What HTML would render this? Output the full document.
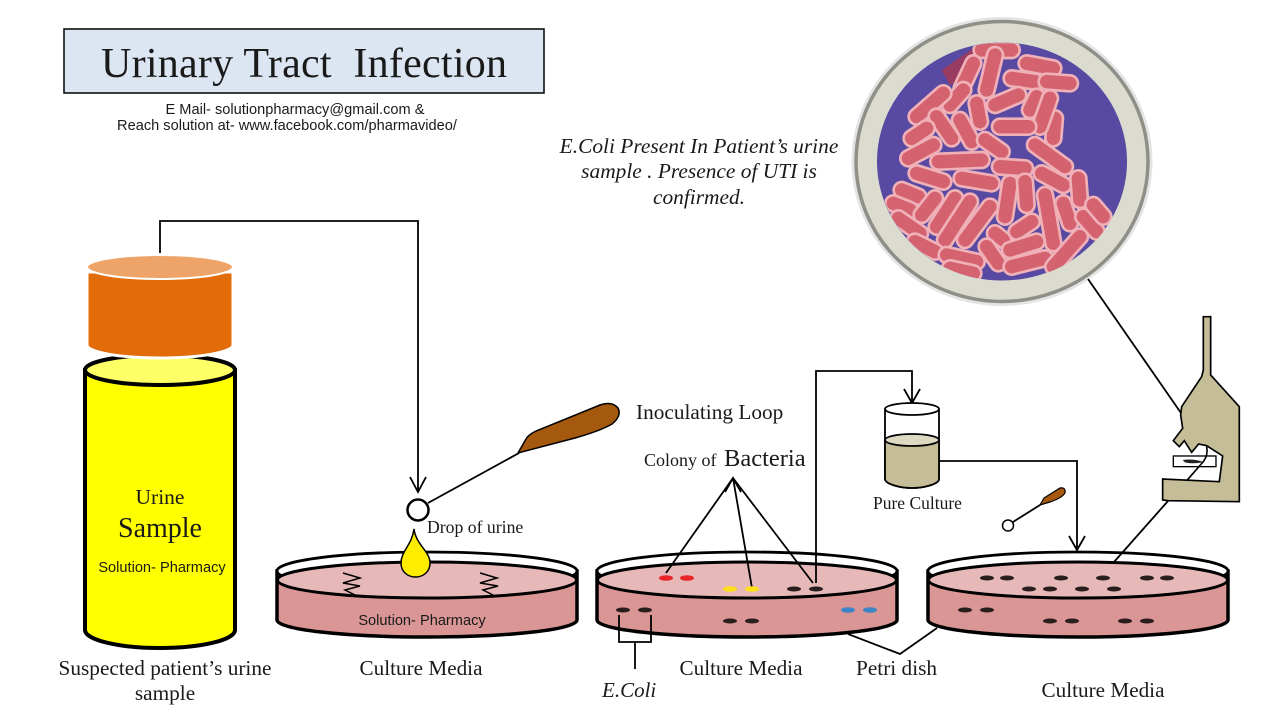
<!DOCTYPE html>
<html><head><meta charset="utf-8"><style>
html,body{margin:0;padding:0;background:#fff}
svg{display:block}
.s{font-family:"Liberation Serif",serif;fill:#1a1a1a}
.a{font-family:"Liberation Sans",sans-serif;fill:#1a1a1a}
.l{fill:none;stroke:#000;stroke-width:1.8}
.o{fill:#2a1d1d}
.p{fill:none;stroke:#f0b0b8;stroke-linecap:round;stroke-width:56}
.q{fill:none;stroke:#d4636f;stroke-linecap:round;stroke-width:40}
</style></head><body>
<svg width="1280" height="720" viewBox="0 0 1280 720" xmlns="http://www.w3.org/2000/svg">
<defs>
<clipPath id="c"><ellipse cx="487" cy="455" rx="375" ry="357"/></clipPath>
<g id="dish">
<path d="M277 571V620A150 17 0 0 0 577 620V571Z" fill="#d99694" stroke="#000" stroke-width="3.500"/>
<ellipse cx="427" cy="571" rx="150" ry="19" fill="#fff" stroke="#000" stroke-width="2.800"/>
<ellipse cx="427" cy="580" rx="149.500" ry="18" fill="#e6b9b8" stroke="#000" stroke-width="3"/>
</g>
</defs>
<rect width="1280" height="720" fill="#fff"/>

<!-- title -->
<rect x="64" y="29" width="480" height="64" fill="#dce6f2" stroke="#000" stroke-width="1.500"/>
<text class="s" x="101" y="77" font-size="42" textLength="406" xml:space="preserve">Urinary Tract  Infection</text>
<text class="a" x="295" y="114" font-size="14.600" text-anchor="middle">E Mail- solutionpharmacy@gmail.com &amp;</text>
<text class="a" x="287" y="130" font-size="14.600" text-anchor="middle">Reach solution at- www.facebook.com/pharmavideo/</text>

<!-- description -->
<g font-size="21.400" font-style="italic" text-anchor="middle">
<text class="s" x="699" y="153">E.Coli Present In Patient’s urine</text>
<text class="s" x="699" y="178">sample . Presence of UTI is</text>
<text class="s" x="699" y="204">confirmed.</text>
</g>

<!-- magnified circle -->
<ellipse cx="1002" cy="161.500" rx="149" ry="143" fill="#fff" stroke="#e4e4e4" stroke-width="3"/>
<ellipse cx="1002" cy="161.500" rx="146" ry="140" fill="#dcdbd0" stroke="#8f8f88" stroke-width="3.500"/>
<ellipse cx="1002" cy="161.500" rx="125" ry="119" fill="#5849a2"/>
<g transform="translate(840 10) scale(.3333)" clip-path="url(#c)">
<path d="M305 180L400 115L390 200L330 225Z" fill="#9a3c62"/>
<path class="p" d="M425 120H515"/><path class="q" d="M425 120H515"/>
<path class="p" d="M400 160L365 235"/><path class="q" d="M400 160L365 235"/>
<path class="p" d="M465 135L440 240"/><path class="q" d="M465 135L440 240"/>
<path class="p" d="M560 160L640 175"/><path class="q" d="M560 160L640 175"/>
<path class="p" d="M515 205L585 215"/><path class="q" d="M515 205L585 215"/>
<path class="p" d="M620 215L690 220"/><path class="q" d="M620 215L690 220"/>
<path class="p" d="M465 285L535 255"/><path class="q" d="M465 285L535 255"/>
<path class="p" d="M570 300L590 260"/><path class="q" d="M570 300L590 260"/>
<path class="p" d="M645 325L640 385"/><path class="q" d="M645 325L640 385"/>
<path class="p" d="M600 350L630 265"/><path class="q" d="M600 350L630 265"/>
<path class="p" d="M480 350H565"/><path class="q" d="M480 350H565"/>
<path class="p" d="M330 285L370 240"/><path class="q" d="M330 285L370 240"/>
<path class="p" d="M230 320L310 250"/><path class="q" d="M230 320L310 250"/>
<path class="p" d="M410 280L420 335"/><path class="q" d="M410 280L420 335"/>
<path class="p" d="M290 320L335 385"/><path class="q" d="M290 320L335 385"/>
<path class="p" d="M360 330L395 395"/><path class="q" d="M360 330L395 395"/>
<path class="p" d="M215 385L260 355"/><path class="q" d="M215 385L260 355"/>
<path class="p" d="M205 445L280 405"/><path class="q" d="M205 445L280 405"/>
<path class="p" d="M435 390L485 425"/><path class="q" d="M435 390L485 425"/>
<path class="p" d="M295 455L425 450"/><path class="q" d="M295 455L425 450"/>
<path class="p" d="M230 490L310 515"/><path class="q" d="M230 490L310 515"/>
<path class="p" d="M365 505L455 520"/><path class="q" d="M365 505L455 520"/>
<path class="p" d="M480 470L555 475"/><path class="q" d="M480 470L555 475"/>
<path class="p" d="M585 405L675 470"/><path class="q" d="M585 405L675 470"/>
<path class="p" d="M605 490L670 525"/><path class="q" d="M605 490L670 525"/>
<path class="p" d="M715 505L720 570"/><path class="q" d="M715 505L720 570"/>
<path class="p" d="M510 520L495 620"/><path class="q" d="M510 520L495 620"/>
<path class="p" d="M555 515L560 585"/><path class="q" d="M555 515L560 585"/>
<path class="p" d="M615 555L640 700"/><path class="q" d="M615 555L640 700"/>
<path class="p" d="M670 580L690 640"/><path class="q" d="M670 580L690 640"/>
<path class="p" d="M185 540L235 560"/><path class="q" d="M185 540L235 560"/>
<path class="p" d="M160 580L210 600"/><path class="q" d="M160 580L210 600"/>
<path class="p" d="M245 615L285 565"/><path class="q" d="M245 615L285 565"/>
<path class="p" d="M290 650L345 565"/><path class="q" d="M290 650L345 565"/>
<path class="p" d="M315 690L390 575"/><path class="q" d="M315 690L390 575"/>
<path class="p" d="M375 690L450 590"/><path class="q" d="M375 690L450 590"/>
<path class="p" d="M175 625L240 670"/><path class="q" d="M175 625L240 670"/>
<path class="p" d="M225 695L285 725"/><path class="q" d="M225 695L285 725"/>
<path class="p" d="M320 735L410 755"/><path class="q" d="M320 735L410 755"/>
<path class="p" d="M330 775L400 790"/><path class="q" d="M330 775L400 790"/>
<path class="p" d="M465 670L490 690"/><path class="q" d="M465 670L490 690"/>
<path class="p" d="M530 665L575 635"/><path class="q" d="M530 665L575 635"/>
<path class="p" d="M440 710L475 760"/><path class="q" d="M440 710L475 760"/>
<path class="p" d="M510 720L590 695"/><path class="q" d="M510 720L590 695"/>
<path class="p" d="M515 770L615 745"/><path class="q" d="M515 770L615 745"/>
<path class="p" d="M640 770L720 680"/><path class="q" d="M640 770L720 680"/>
<path class="p" d="M730 620L770 665"/><path class="q" d="M730 620L770 665"/>
<path class="p" d="M760 585L790 620"/><path class="q" d="M760 585L790 620"/>
</g>

<!-- bottle -->
<path d="M85 370V630A75 18 0 0 0 235 630V370Z" fill="#ff0" stroke="#000" stroke-width="4"/>
<ellipse cx="160" cy="370" rx="75" ry="15" fill="#ffff66" stroke="#000" stroke-width="4"/>
<path d="M87 272V345A73 13 0 0 0 233 345V272Z" fill="#e36c0a" stroke="#fff" stroke-width="3"/>
<ellipse cx="160" cy="267" rx="73" ry="12" fill="#eea468" stroke="#fff" stroke-width="2"/>
<path class="l" d="M160 253V221H418V492"/>
<path class="l" d="M410 477L418 492L426 477"/>
<text class="s" x="160" y="504" font-size="21.500" text-anchor="middle">Urine</text>
<text class="s" x="160" y="537" font-size="28" text-anchor="middle">Sample</text>
<text class="a" x="162" y="572" font-size="14.600" text-anchor="middle">Solution- Pharmacy</text>
<text class="s" x="165" y="675" font-size="21.300" text-anchor="middle">Suspected patient’s urine</text>
<text class="s" x="165" y="700" font-size="21.300" text-anchor="middle">sample</text>

<!-- dish 1 -->
<use href="#dish"/>
<path d="M343 573L360 578L343 583L360 586L345 590L355 595M480 573L497 578L480 583L498 586L483 590L493 595" fill="none" stroke="#000" stroke-width="1.500"/>
<text class="a" x="422" y="625" font-size="14.600" text-anchor="middle">Solution- Pharmacy</text>
<circle cx="418" cy="510" r="10.500" fill="#fff" stroke="#000" stroke-width="2.500"/>
<path class="l" d="M428 503L519 453"/>
<path d="M518 453L526 439Q528 435 536 431L600 405Q612 401 618 408Q622 416 612 424Q600 431 575 438Z" fill="#a5590f" stroke="#000" stroke-width="1.500"/>
<path d="M414 529C416 545 430 551 430 563C430 572 423 577 415.500 577S401 572 401 563C401 551 412 545 414 529Z" fill="#ffed00" stroke="#000" stroke-width="1.500"/>
<text class="s" x="427" y="533" font-size="17.700">Drop of urine</text>
<text class="s" x="421" y="675" font-size="21.200" text-anchor="middle">Culture Media</text>
<text class="s" x="636" y="419" font-size="21.300">Inoculating Loop</text>
<text class="s" x="644" y="466" font-size="18">Colony of</text>
<text class="s" x="724" y="466" font-size="24.500">Bacteria</text>

<!-- dish 2 -->
<use href="#dish" x="320"/>
<path class="l" d="M733 478L666 573M733 478L752 588M733 478L813 583"/>
<path class="l" d="M725 492L733 478L741 492"/>
<path class="l" d="M816 583V371H912V403"/>
<path class="l" d="M904 389L912 403L920 389"/>
<g>
<ellipse cx="666" cy="578" rx="7" ry="2.800" fill="#e8262a"/><ellipse cx="687" cy="578" rx="7" ry="2.800" fill="#e8262a"/>
<ellipse cx="730" cy="589" rx="7" ry="2.800" fill="#ffdf1a"/><ellipse cx="752" cy="589" rx="7" ry="2.800" fill="#ffdf1a"/>
<ellipse class="o" cx="794" cy="589" rx="7" ry="2.500"/><ellipse class="o" cx="816" cy="589" rx="7" ry="2.500"/>
<ellipse class="o" cx="623" cy="610" rx="7" ry="2.500"/><ellipse class="o" cx="645" cy="610" rx="7" ry="2.500"/>
<ellipse class="o" cx="730" cy="621" rx="7" ry="2.500"/><ellipse class="o" cx="752" cy="621" rx="7" ry="2.500"/>
<ellipse cx="848" cy="610" rx="7" ry="2.800" fill="#3d85c6"/><ellipse cx="870" cy="610" rx="7" ry="2.800" fill="#3d85c6"/>
</g>
<path class="l" d="M619 615V642H651V615M635 642V669"/>
<path class="l" d="M848 634L900 654L937 628"/>
<text class="s" x="602" y="697" font-size="21" font-style="italic">E.Coli</text>
<text class="s" x="741" y="675" font-size="21.200" text-anchor="middle">Culture Media</text>
<text class="s" x="856" y="675" font-size="21.300">Petri dish</text>

<!-- beaker -->
<path d="M885 409V479C885 484 900 488 912 488S939 484 939 479V409" fill="#fff" stroke="#000" stroke-width="1.800"/>
<path d="M885 440V479C885 484 900 488 912 488S939 484 939 479V440Z" fill="#c4bd97" stroke="#000" stroke-width="1.800"/>
<ellipse cx="912" cy="440" rx="27" ry="6" fill="#ddd9c3" stroke="#000" stroke-width="1.800"/>
<ellipse cx="912" cy="409" rx="27" ry="6" fill="#fff" stroke="#000" stroke-width="1.800"/>
<text class="s" x="873" y="509" font-size="17.500">Pure Culture</text>
<path class="l" d="M939 461H1077V550"/>
<path class="l" d="M1069 536L1077 550L1085 536"/>

<!-- small loop -->
<circle cx="1008" cy="525.500" r="5.500" fill="#fff" stroke="#000" stroke-width="1.500"/>
<path class="l" d="M1013 522L1040 505"/>
<path d="M1040 505L1044 498L1060 488Q1066 487 1065 493Q1062 498 1050 502Z" fill="#a5590f" stroke="#000" stroke-width="1.200"/>

<!-- dish 3 -->
<use href="#dish" x="651"/>
<g class="o">
<ellipse cx="987" cy="578" rx="7" ry="2.500"/><ellipse cx="1007" cy="578" rx="7" ry="2.500"/><ellipse cx="1061" cy="578" rx="7" ry="2.500"/><ellipse cx="1103" cy="578" rx="7" ry="2.500"/><ellipse cx="1147" cy="578" rx="7" ry="2.500"/><ellipse cx="1167" cy="578" rx="7" ry="2.500"/>
<ellipse cx="1029" cy="589" rx="7" ry="2.500"/><ellipse cx="1050" cy="589" rx="7" ry="2.500"/><ellipse cx="1082" cy="589" rx="7" ry="2.500"/><ellipse cx="1114" cy="589" rx="7" ry="2.500"/>
<ellipse cx="965" cy="610" rx="7" ry="2.500"/><ellipse cx="987" cy="610" rx="7" ry="2.500"/>
<ellipse cx="1050" cy="621" rx="7" ry="2.500"/><ellipse cx="1072" cy="621" rx="7" ry="2.500"/><ellipse cx="1125" cy="621" rx="7" ry="2.500"/><ellipse cx="1147" cy="621" rx="7" ry="2.500"/>
</g>
<text class="s" x="1103" y="697" font-size="21.200" text-anchor="middle">Culture Media</text>

<!-- microscope -->
<path class="l" d="M1088 279L1181 413"/>
<path class="l" d="M1114 562L1168 501"/>
<g transform="translate(1090 300) scale(.3333)">
<path d="M340 50H362V225L448 320V605L235 602L218 600V537L388 545L398 468L350 437L326 432L305 457L283 422L268 440L250 422L278 385L272 345L275 320L335 230L340 210Z" fill="#c4bd97" stroke="#000" stroke-width="5"/>
<rect x="250" y="468" width="128" height="32" fill="#fff" stroke="#000" stroke-width="4"/>
<path d="M278 480Q310 475 340 486Q310 493 285 487Z" fill="#222"/>
<path d="M350 440Q355 465 340 485L292 540" fill="none" stroke="#000" stroke-width="5"/>
</g>
</svg>
</body></html>
